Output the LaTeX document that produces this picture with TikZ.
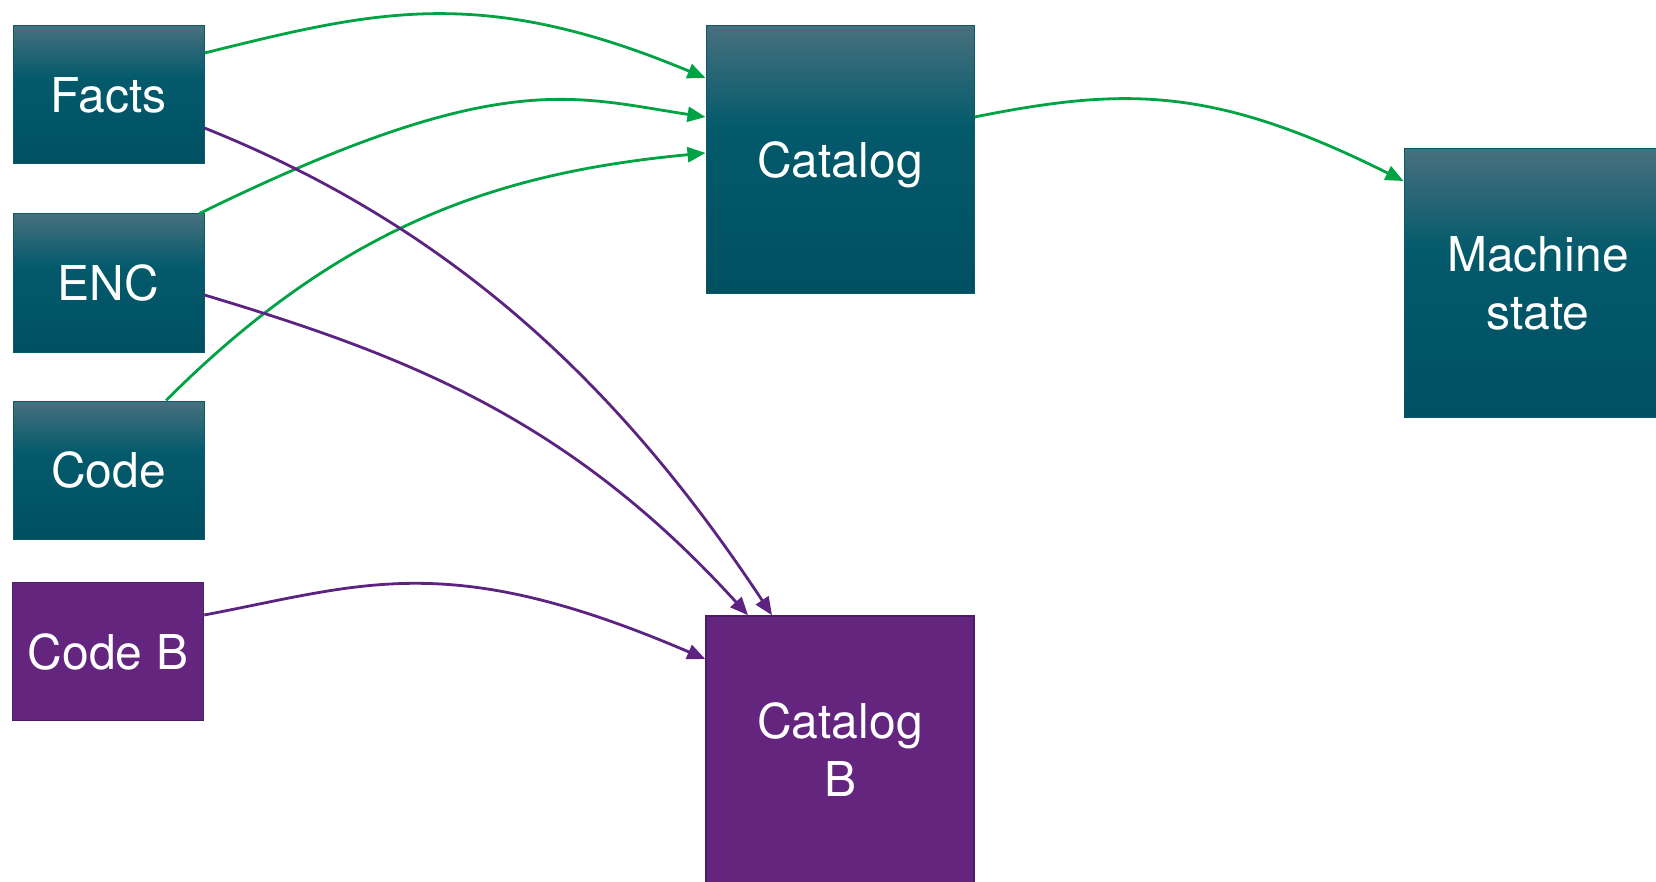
\documentclass[tikz,border=0pt]{standalone}
\usepackage{fontspec}
\setmainfont{TeX Gyre Heros}
\usetikzlibrary{arrows.meta}
\definecolor{tealtop}{HTML}{48707E}
\definecolor{tealmid}{HTML}{035A6B}
\definecolor{tealbot}{HTML}{005062}
\definecolor{tealline}{HTML}{0B5868}
\definecolor{grape}{HTML}{64257F}
\definecolor{grapeline}{HTML}{4E1B66}
\definecolor{leaf}{HTML}{00A344}
\definecolor{plum}{HTML}{5C2480}
\pgfdeclareverticalshading{tealfade}{100bp}{color(0bp)=(tealbot); color(25bp)=(tealbot); color(56bp)=(tealmid); color(75bp)=(tealtop); color(100bp)=(tealtop)}
\begin{document}
\begin{tikzpicture}[x = 1pt, y = -1pt,
            box/.style = {text = white, inner sep = 0pt, align = center, font = \fontsize{48}{58}\selectfont},
            tealbox/.style = {box, draw = tealline, line width = 1pt, shading = tealfade},
            grapebox/.style = {box, draw = grapeline, line width = 1.5pt, fill = grape},
            small/.style = {minimum width = 191pt, minimum height = 138pt},
            large/.style = {minimum width = 268pt, minimum height = 268pt},
            link/.style = {leaf, line width = 2.8pt, -{Triangle[length = 18pt, width = 15pt]}},
            linkB/.style = {link, plum}]
            \useasboundingbox (0,0) rectangle (1656,882);
            \node[tealbox, small] (facts) at (108.5,95) {Facts};
            \node[tealbox, small] (enc) at (108.5,283) {ENC};
            \node[tealbox, small] (code) at (108.5,470) {Code};
            \node[grapebox, small] (codeB) at (108,651.5) {Code B};
            \node[tealbox, large, text depth = 0pt] (catalog) at (840,160) {Catalog};
            \node[tealbox, large] (machine) at (1538,283) {Machine\\state};
            \node[grapebox, large] (catalogB) at (840,750) {Catalog\\B};
            \draw[link] ([yshift = 42pt]facts.east) .. controls +(170,-42) and +(-225,-94) .. ([yshift = 82pt]catalog.west);
            \draw[link] ([xshift = -5pt]enc.north east) .. controls +(300,-147) and +(-133,-20) .. ([yshift = 43pt]catalog.west);
            \draw[link] ([xshift = 57.5pt]code.north) .. controls +(180,-180) and +(-200,19) .. ([yshift = 7pt]catalog.west);
            \draw[link] ([yshift = 43pt]catalog.east) .. controls +(150,-30) and +(-190,-95) .. ([yshift = 102pt]machine.west);
            \draw[linkB] ([yshift = -33pt]facts.east) .. controls +(250,100) and +(-150,-227) .. ([xshift = -68pt]catalogB.north);
            \draw[linkB] ([yshift = -12pt]enc.east) .. controls +(200,60) and +(-180,-198) .. ([xshift = -92pt]catalogB.north);
            \draw[linkB] ([yshift = 36.5pt]codeB.east) .. controls +(160,-30.4) and +(-257,-110.5) .. ([yshift = 91pt]catalogB.west);
        \end{tikzpicture}
\end{document}
